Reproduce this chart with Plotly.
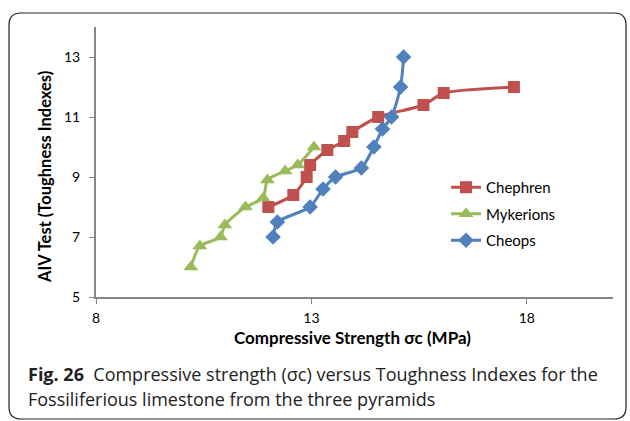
import plotly.graph_objects as go

# ---- data ----
chephren_x = [12.0, 12.58, 12.89, 12.97, 13.37, 13.76, 13.95, 14.55, 15.6, 16.07, 17.7]
chephren_y = [8.0, 8.4, 9.0, 9.4, 9.9, 10.2, 10.5, 11.0, 11.4, 11.8, 12.0]

mykerions_x = [10.2, 10.41, 10.89, 10.99, 11.47, 11.88, 11.98, 12.39, 12.68, 13.06]
mykerions_y = [6.0, 6.7, 7.0, 7.4, 8.0, 8.3, 8.9, 9.2, 9.4, 10.0]

cheops_x = [12.11, 12.21, 12.97, 13.27, 13.56, 14.16, 14.45, 14.65, 14.86, 15.07, 15.14]
cheops_y = [7.0, 7.5, 8.0, 8.6, 9.0, 9.3, 10.0, 10.6, 11.0, 12.0, 13.0]

x_ticks = [8, 13, 18]
y_ticks = [5, 7, 9, 11, 13]

W, H = 630, 421
L, R, T, B = 96, 17, 27, 124
PW, PH = W - L - R, H - T - B


def px(x):
    return (x - L) / PW


def py(y):
    return (H - B - y) / PH


fig = go.Figure()
series = [
    ("Chephren", chephren_x, chephren_y, "#C0504D", "square", 12),
    ("Mykerions", mykerions_x, mykerions_y, "#9BBB59", "triangle-up", 13),
    ("Cheops", cheops_x, cheops_y, "#4F81BD", "diamond", 12),
]
for name, xs, ys, col, sym, sz in series:
    fig.add_trace(go.Scatter(
        x=xs, y=ys, name=name, mode="lines+markers",
        line=dict(color=col, width=3, shape="spline", smoothing=0.6),
        marker=dict(color=col, symbol=sym, size=sz),
        legendgroup=name,
    ))

axis_col = "#868686"
fig.update_layout(
    width=W, height=H,
    margin=dict(l=L, r=R, t=T, b=B),
    paper_bgcolor="white", plot_bgcolor="white",
    font=dict(family="Lato", size=13, color="#000000"),
    showlegend=True,
    legend=dict(x=px(446), y=py(171), xanchor="left", yanchor="top",
                font=dict(family="Lato", size=15, color="#000000"),
                tracegroupgap=4, bgcolor="rgba(0,0,0,0)", itemwidth=30),
    xaxis=dict(range=[8, 20], tickvals=x_ticks, showgrid=False, zeroline=False,
               showline=True, linecolor=axis_col, linewidth=2,
               ticks="outside", ticklen=5, tickcolor=axis_col, tickwidth=1,
               ticklabelstandoff=2,
               tickfont=dict(family="Lato", size=14)),
    yaxis=dict(range=[5, 14], tickvals=y_ticks, showgrid=False, zeroline=False,
               showline=True, linecolor=axis_col, linewidth=2,
               ticks="outside", ticklen=5, tickcolor=axis_col, tickwidth=1,
               ticklabelstandoff=6,
               tickfont=dict(family="Lato", size=14)),
)

# axis titles
fig.add_annotation(text="<b>Compressive Strength σc (MPa)</b>", xref="paper", yref="paper",
                   x=px(352), y=py(337), xanchor="center", yanchor="middle", showarrow=False,
                   font=dict(family="Lato", size=17, color="#000000"))
fig.add_annotation(text="<b>AIV Test (Toughness Indexes)</b>", xref="paper", yref="paper",
                   x=px(45), y=py(177), xanchor="center", yanchor="middle",
                   showarrow=False, textangle=-90,
                   font=dict(family="Lato", size=16.5, color="#000000"))

# caption
fig.add_annotation(text="<b>Fig. 26</b>  Compressive strength (σc) versus Toughness Indexes for the",
                   xref="paper", yref="paper", x=px(26), y=py(374), xanchor="left",
                   yanchor="middle",
                   showarrow=False, font=dict(family="Open Sans", size=18, color="#222222"))
fig.add_annotation(text="Fossiliferious limestone from the three pyramids",
                   xref="paper", yref="paper", x=px(26), y=py(399), xanchor="left",
                   yanchor="middle",
                   showarrow=False, font=dict(family="Open Sans", size=18, color="#222222"))

# rounded frame
x0, y0, x1, y1, r = px(9), py(13), px(626), py(419), 12
rx, ry = r / PW, r / PH
path = (f"M {x0},{y0 - ry} L {x0},{y1 + ry} Q {x0},{y1} {x0 + rx},{y1} "
        f"L {x1 - rx},{y1} Q {x1},{y1} {x1},{y1 + ry} L {x1},{y0 - ry} "
        f"Q {x1},{y0} {x1 - rx},{y0} L {x0 + rx},{y0} Q {x0},{y0} {x0},{y0 - ry} Z")
fig.add_shape(type="path", path=path, xref="paper", yref="paper",
              line=dict(color="#222222", width=1.2))

fig.write_html("out.html")
